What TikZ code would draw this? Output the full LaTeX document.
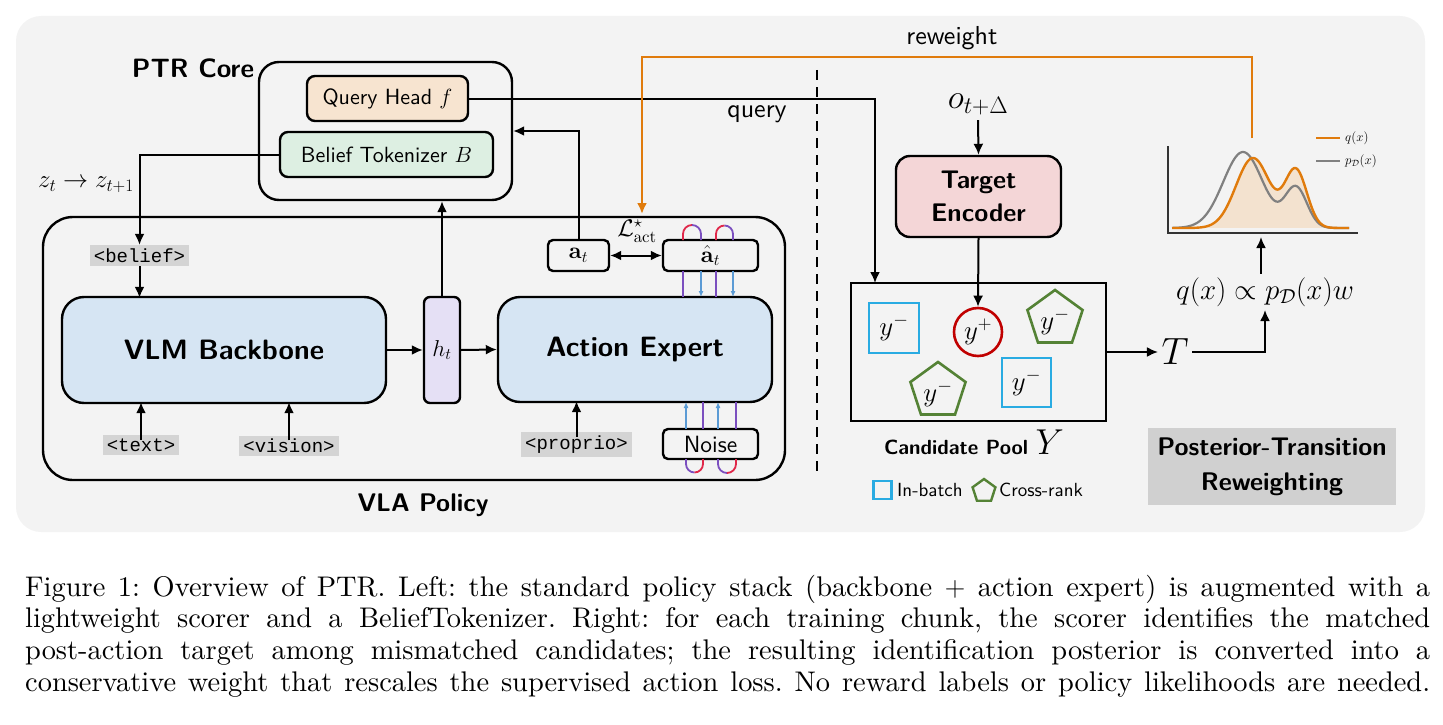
\RequirePackage{fix-cm}
\documentclass[tikz,border=0pt]{standalone}
\usepackage{fontspec}
\setmainfont{lmroman10-regular}[Extension=.otf, BoldFont=lmroman10-bold, ItalicFont=lmroman10-italic, BoldItalicFont=lmroman10-bolditalic]
\setsansfont{lmsans10-regular}[Extension=.otf, BoldFont=lmsans10-bold, ItalicFont=lmsans10-oblique, BoldItalicFont=lmsans10-boldoblique]
\setmonofont{Liberation Mono}
\usetikzlibrary{arrows.meta,shapes.geometric}
\definecolor{panelgray}{HTML}{F3F3F3}
\definecolor{qhfill}{HTML}{F7E4D0}
\definecolor{btfill}{HTML}{DDEFE2}
\definecolor{bluefill}{HTML}{D6E5F3}
\definecolor{htfill}{HTML}{E5E0F5}
\definecolor{tefill}{HTML}{F4D6D7}
\definecolor{tokgray}{HTML}{D4D4D4}
\definecolor{ptrgray}{HTML}{D0D0D0}
\definecolor{rwor}{HTML}{E07B0C}
\definecolor{orfill}{HTML}{F3E2CF}
\definecolor{cyanb}{HTML}{29ABE2}
\definecolor{redc}{HTML}{C00000}
\definecolor{greenp}{HTML}{548235}
\definecolor{loopred}{HTML}{E0284A}
\definecolor{looppur}{HTML}{7B4FBF}
\definecolor{loopblue}{HTML}{5B9BD5}
\definecolor{pgray}{HTML}{808080}
\newcommand{\fsz}[2]{\fontsize{#1}{#2}\selectfont}
\tikzset{
  box/.style={draw=black, line width=2.4pt, rounded corners=#1, align=center, inner sep=0pt},
  box/.default=8pt,
  tok/.style={fill=tokgray, inner xsep=4pt, inner ysep=3.5pt, font=\ttfamily\fsz{19}{22}},
  conn/.style={line width=2pt, -{Latex[length=11pt,width=10pt]}},
  thinarr/.style={line width=1.4pt, loopblue, -{Latex[length=6pt,width=5pt]}},
  loopl/.style={line width=1.8pt},
  cand/.style={line width=2.6pt, minimum size=#1, inner sep=0pt, font=\fsz{27}{27}},
  pent/.style={regular polygon, regular polygon sides=5, draw=greenp, line width=2.6pt, minimum size=#1, inner sep=0pt},
  boldlab/.style={font=\sffamily\bfseries\fsz{#1}{#1}},
}
\begin{document}
\begin{tikzpicture}[x=1pt, y=-1pt]
\useasboundingbox (0,0) rectangle (1443,725);
\fill[panelgray, rounded corners=25pt] (16,16) rectangle (1425,532);

% ---------- PTR core ----------
\node[box=20pt, minimum width=253pt, minimum height=138pt] (ptr) at (385.5,131) {};
\node[boldlab=26.5] (ptrlab) at (193,68) {PTR Core};
\node[box=8pt, fill=qhfill, minimum width=161pt, minimum height=45pt, font=\sffamily\fsz{22}{22}] (qh) at (387.5,98.5) {Query Head $f$};
\node[box=8pt, fill=btfill, minimum width=213pt, minimum height=45pt, font=\sffamily\fsz{22}{22}] (bt) at (386.5,154.5) {Belief Tokenizer $B$};
\node[font=\fsz{25}{25}] (zlab) at (86,185) {$z_t \rightarrow z_{t+1}$};

% ---------- VLA policy ----------
\node[box=30pt, minimum width=742pt, minimum height=263pt] (vla) at (414,348.5) {};
\node[boldlab=25.5] (vlalab) at (423,505) {VLA Policy};
\node[tok] (belief) at (139.5,255.5) {<belief>};
\node[box=22pt, fill=bluefill, minimum width=324pt, minimum height=106pt, boldlab=28] (vlm) at (224,350) {VLM Backbone};
\node[tok] (txt) at (141,445) {<text>};
\node[tok] (vis) at (289,446) {<vision>};
\node[box=6pt, fill=htfill, minimum width=36pt, minimum height=106pt, font=\fsz{23}{23}] (ht) at (442,350) {$h_t$};
\node[box=22pt, fill=bluefill, minimum width=274pt, minimum height=105pt, boldlab=28] (ae) at (635,349.5) {Action Expert};
\node[box=5pt, fill=panelgray, minimum width=61pt, minimum height=31pt, font=\fsz{23}{23}] (at) at (578.5,255.5) {$\mathbf{a}_t$};
\node[box=5pt, fill=panelgray, minimum width=95pt, minimum height=31pt, font=\fsz{23}{23}] (ah) at (710.5,255.5) {$\hat{\mathbf{a}}_t$};
\node[font=\fsz{24}{24}, inner sep=0pt] (lact) at (637,231) {$\mathcal{L}^{\star}_{\mathrm{act}}$};
\node[box=5pt, fill=panelgray, minimum width=95pt, minimum height=30pt, font=\sffamily\fsz{23.5}{23.5}] (noise) at (710.5,444) {Noise};
\node[tok] (prop) at (576.5,444.5) {<proprio>};

% connectors left
\draw[conn] (bt.west) -| (belief.north);
\draw[conn] (belief.south) -- ([yshift=-2pt]belief.south |- vlm.north);
\draw[conn] ([yshift=-5pt]txt.north) -- ([yshift=2pt]txt.north |- vlm.south);
\draw[conn] ([yshift=-5pt]vis.north) -- ([yshift=2pt]vis.north |- vlm.south);
\draw[conn] ([yshift=-5pt]prop.north) -- ([yshift=2pt]prop.north |- ae.south);
\draw[conn] (vlm.east) -- (ht.west);
\draw[conn] (ht.east) -- (ae.west);
\draw[conn] (ht.north) -- (ht.north |- ptr.south);
\draw[conn] (at.north) |- (ptr.east);
\draw[line width=2pt, {Latex[length=11pt,width=10pt]}-{Latex[length=11pt,width=10pt]}] (at.east) -- (ah.west);

% denoising loops
\foreach \xa/\xb in {683/701, 716/733} {
  \pgfmathsetmacro{\r}{(\xb-\xa)/2}
  \draw[loopl, loopred] (\xa,240) -- (\xa,234) arc (180:90:\r pt);
  \draw[loopl, looppur] (\xa+\r,234-\r) arc (90:0:\r pt) -- (\xb,240);
  \draw[loopl, looppur] (\xa,271) -- (\xa,297);
  \draw[thinarr] (\xb,271) -- (\xb,297);
}
\foreach \xa/\xb in {686/703, 718/736} {
  \pgfmathsetmacro{\r}{(\xb-\xa)/2}
  \draw[loopl, looppur] (\xa,459) -- (\xa,464) arc (180:270:\r pt);
  \draw[loopl, loopred] (\xa+\r,464+\r) arc (270:360:\r pt) -- (\xb,459);
  \draw[thinarr] (\xa,429) -- (\xa,402);
  \draw[loopl, looppur] (\xb,429) -- (\xb,402);
}

% ---------- right side ----------
\draw[line width=2.4pt, dash pattern=on 10pt off 7pt] (817,70) -- (817,476);
\node[font=\fsz{34}{34}] (o) at (978,104) {$o_{t+\Delta}$};
\node[box=14pt, fill=tefill, minimum width=165pt, minimum height=81pt, font=\sffamily\bfseries\fsz{25.5}{33}] (te) at (978.5,196.5) {Target\\Encoder};
\node[draw=black, line width=2.4pt, minimum width=255pt, minimum height=138pt] (pool) at (978.5,352) {};
\node[cand=50pt, draw=cyanb] (s1) at (894,328) {$y^-$};
\node[cand=48pt, draw=redc, circle] (cp) at (978,332) {$y^+$};
\node[pent=58pt] (p1) at (1055,319) {};
\node[font=\fsz{27}{27}] (p1t) at (1055,322) {$y^-$};
\node[pent=58pt] (p2) at (938,391) {};
\node[font=\fsz{27}{27}] (p2t) at (938,394) {$y^-$};
\node[cand=49pt, draw=cyanb] (s2) at (1026.5,382.5) {$y^-$};
\node (poollab) at (974,442) {\sffamily\bfseries\fsz{20.5}{20.5}Candidate Pool \fsz{36}{36}$Y$};
\node[draw=cyanb, line width=2.4pt, minimum size=18pt, inner sep=0pt] (lg1) at (882.5,490) {};
\node[anchor=west, font=\sffamily\fsz{19}{19}, inner sep=0pt] (lg1t) at (897,490) {In-batch};
\node[regular polygon, regular polygon sides=5, draw=greenp, line width=2.4pt, minimum size=24pt, inner sep=0pt] (lg2) at (984,491) {};
\node[anchor=west, font=\sffamily\fsz{19}{19}, inner sep=0pt] (lg2t) at (999,490) {Cross-rank};

\coordinate (qt) at (875,283);
\draw[conn] (qh.east) -| (qt);
\node[font=\sffamily\fsz{26}{26}] (qlab) at (757,114) {query};
\draw[conn] ([yshift=-2pt]o.south) -- (te.north);
\draw[conn] (te.south) -- (cp.north);

\node[font=\fsz{38}{38}] (T) at (1175,352) {$T$};
\draw[conn] (pool.east) -- (T.west);
\node[font=\fsz{29}{29}] (form) at (1265,292) {$q(x) \propto p_{\mathcal{D}}(x) w$};
\draw[conn] (T.east) -| (form.south);
\coordinate (plotbot) at (1261,237);
\draw[conn] (form.north -| plotbot) -- (plotbot);

% plot
\fill[orfill] plot[domain=0:177, samples=120] ({1172+\x},{228-70*exp(-((\x-81)/24)*((\x-81)/24))-57*exp(-((\x-124)/15.5)*((\x-124)/15.5))}) -- cycle;
\draw[pgray, line width=2.2pt] plot[domain=0:177, samples=120] ({1172+\x},{228-76*exp(-((\x-71)/28)*((\x-71)/28))-40*exp(-((\x-124)/15.5)*((\x-124)/15.5))});
\draw[rwor, line width=2.4pt] plot[domain=0:177, samples=120] ({1172+\x},{228-70*exp(-((\x-81)/24)*((\x-81)/24))-57*exp(-((\x-124)/15.5)*((\x-124)/15.5))});
\draw[black!80, line width=1.6pt] (1168,146) -- (1168,233) -- (1358,233);
\draw[rwor, line width=2pt] (1316,138) -- (1340,138);
\node[anchor=west, font=\fsz{13}{13}, inner sep=1pt] (ql) at (1344,138) {$q(x)$};
\draw[pgray, line width=2pt] (1316,161) -- (1340,161);
\node[anchor=west, font=\fsz{13}{13}, inner sep=1pt] (pl) at (1344,161) {$p_{\mathcal{D}}(x)$};

% reweight
\coordinate (rws) at (1252,138);
\coordinate (rwc) at (642,57);
\coordinate (rwe) at (642,214);
\draw[rwor, line width=2.4pt, -{Latex[length=11pt,width=10pt]}] (rws) |- (rwc) -- (rwe);
\node[font=\sffamily\fsz{26}{26}] (rwlab) at (952,38) {reweight};

\node[fill=ptrgray, minimum width=248pt, minimum height=77pt, font=\sffamily\bfseries\fsz{25.5}{35}, align=center] (ptrbox) at (1272,466.5) {Posterior-Transition\\Reweighting};

% caption
\begin{scope}[every node/.style={anchor=base west, inner sep=0pt, font=\fsz{28.4}{31.7}\frenchspacing}]
\node (c1) at (25,596) {\hbox to 1405pt{Figure 1: Overview of PTR. Left: the standard policy stack (backbone $+$ action expert) is augmented with a}};
\node (c2) at (25,627.7) {\hbox to 1405pt{lightweight scorer and a BeliefTokenizer. Right: for each training chunk, the scorer identifies the matched}};
\node (c3) at (25,659.4) {\hbox to 1405pt{post-action target among mismatched candidates; the resulting identification posterior is converted into a}};
\node (c4) at (25,691.1) {\hbox to 1405pt{conservative weight that rescales the supervised action loss. No reward labels or policy likelihoods are needed.}};
\end{scope}
\end{tikzpicture}
\end{document}
